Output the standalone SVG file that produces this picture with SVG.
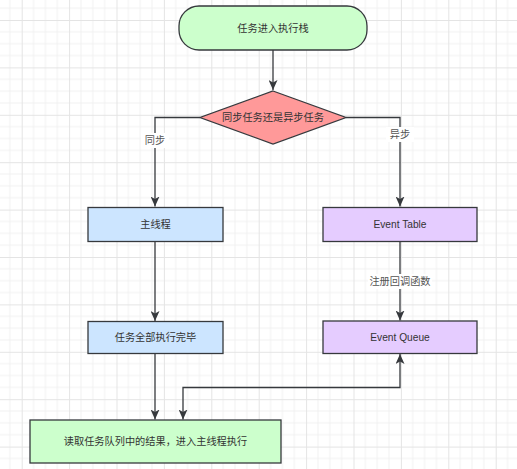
<svg xmlns="http://www.w3.org/2000/svg" width="517" height="469" viewBox="0 0 517 469">
<style>
  .node { stroke: #36393d; stroke-width: 1.3; }
  .t { font-family: "Liberation Sans", "Noto Sans CJK SC", sans-serif; font-size: 10.2px; fill: #333333; text-anchor: middle; dominant-baseline: central; }
  .lbl { font-family: "Liberation Sans", "Noto Sans CJK SC", sans-serif; font-size: 10.2px; fill: #555555; text-anchor: middle; dominant-baseline: central; }
  .edge { fill: none; stroke: #36393d; stroke-width: 1.3; }
</style>
<defs>
  <pattern id="grid" patternUnits="userSpaceOnUse" x="21.7" y="20" width="47.4" height="47.4">
    <path d="M11.85 0V47.4M23.7 0V47.4M35.55 0V47.4M0 11.85H47.4M0 23.7H47.4M0 35.55H47.4" stroke="#f1f1f1" stroke-width="1" fill="none"/>
    <path d="M0.5 0V47.4M0 0.5H47.4" stroke="#e4e4e4" stroke-width="1" fill="none"/>
  </pattern>
  <marker id="arr" markerUnits="userSpaceOnUse" markerWidth="10" markerHeight="9" refX="10" refY="4.5" orient="auto-start-reverse">
    <path d="M0 0L10 4.5L0 9L2.5 4.5Z" fill="#36393d"/>
  </marker>
</defs>
<rect width="517" height="469" fill="#ffffff"/>
<rect width="517" height="469" fill="url(#grid)"/>

<g id="connectors">
  <path class="edge" d="M273 50V90" marker-end="url(#arr)"/>
  <path class="edge" d="M200 117.5H155V206.5" marker-end="url(#arr)"/>
  <path class="edge" d="M346 117.5H400V206.5" marker-end="url(#arr)"/>
  <path class="edge" d="M400 241.5V320.5" marker-end="url(#arr)"/>
  <path class="edge" d="M155 241.5V321" marker-end="url(#arr)"/>
  <path class="edge" d="M155 353.5V419.5" marker-end="url(#arr)"/>
  <path class="edge" d="M183 419.5V387.5H400V354" marker-start="url(#arr)" marker-end="url(#arr)"/>
  <rect x="141" y="133" width="28" height="15" fill="#ffffff"/>
  <text class="lbl" x="155" y="140.5">同步</text>
  <rect x="386" y="127" width="28" height="15" fill="#ffffff"/>
  <text class="lbl" x="400" y="134.5">异步</text>
  <rect x="368" y="274" width="64" height="15" fill="#ffffff"/>
  <text class="lbl" x="400" y="281.5">注册回调函数</text>
</g>

<g id="start">
  <rect class="node" x="179" y="6" width="188" height="44" rx="20" fill="#ccffcc"/>
  <text class="t" x="273" y="28">任务进入执行栈</text>
</g>
<g id="decision">
  <polygon class="node" points="273,91 346,117.5 273,144 200,117.5" fill="#ff9999"/>
  <text class="t" x="273" y="117.5">同步任务还是异步任务</text>
</g>
<g id="main-thread">
  <rect class="node" x="88" y="207.5" width="135" height="34" fill="#cce5ff"/>
  <text class="t" x="155.5" y="224.5">主线程</text>
</g>
<g id="event-table">
  <rect class="node" x="323" y="207.5" width="154" height="34" fill="#e5ccff"/>
  <text class="t" x="400" y="224.5">Event Table</text>
</g>
<g id="tasks-done">
  <rect class="node" x="88" y="321.5" width="135" height="32" fill="#cce5ff"/>
  <text class="t" x="155.5" y="337.5">任务全部执行完毕</text>
</g>
<g id="event-queue">
  <rect class="node" x="323" y="321" width="154" height="32.5" fill="#e5ccff"/>
  <text class="t" x="400" y="337.5">Event Queue</text>
</g>
<g id="read-queue">
  <rect class="node" x="30" y="420" width="251" height="43" fill="#ccffcc"/>
  <text class="t" x="155.5" y="441.5">读取任务队列中的结果，进入主线程执行</text>
</g>
</svg>
